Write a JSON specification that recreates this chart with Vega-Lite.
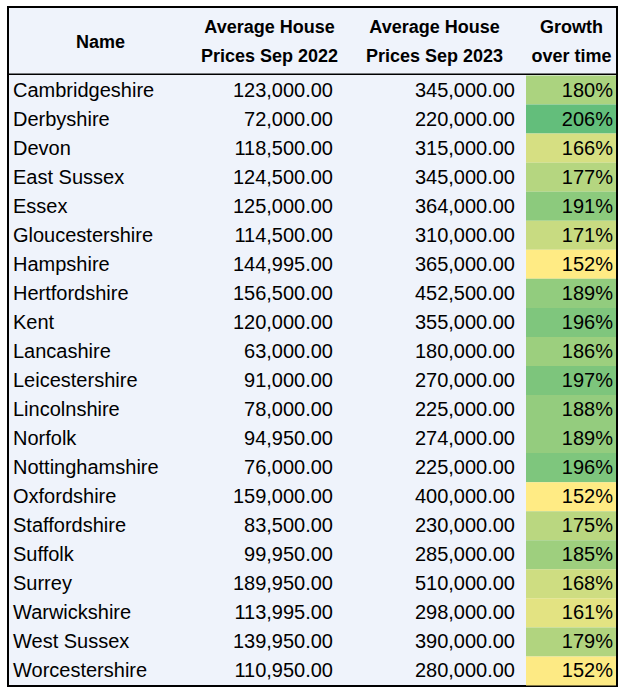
{
  "$schema": "https://vega.github.io/schema/vega-lite/v6.json",
  "width": 609,
  "height": 679,
  "autosize": "none",
  "padding": {"left": 8, "top": 7, "right": 8, "bottom": 2},
  "background": "white",
  "config": {
    "view": {"fill": "#EFF3FB", "stroke": "black", "strokeWidth": 2},
    "text": {"font": "Liberation Sans", "fontSize": 20, "color": "black", "baseline": "middle"}
  },
  "data": {
    "values": [
      {"Name": "Cambridgeshire", "p2022": 123000, "p2023": 345000, "Growth": 1.8049},
      {"Name": "Derbyshire", "p2022": 72000, "p2023": 220000, "Growth": 2.0556},
      {"Name": "Devon", "p2022": 118500, "p2023": 315000, "Growth": 1.6582},
      {"Name": "East Sussex", "p2022": 124500, "p2023": 345000, "Growth": 1.7711},
      {"Name": "Essex", "p2022": 125000, "p2023": 364000, "Growth": 1.912},
      {"Name": "Gloucestershire", "p2022": 114500, "p2023": 310000, "Growth": 1.7074},
      {"Name": "Hampshire", "p2022": 144995, "p2023": 365000, "Growth": 1.5173},
      {"Name": "Hertfordshire", "p2022": 156500, "p2023": 452500, "Growth": 1.8914},
      {"Name": "Kent", "p2022": 120000, "p2023": 355000, "Growth": 1.9583},
      {"Name": "Lancashire", "p2022": 63000, "p2023": 180000, "Growth": 1.8571},
      {"Name": "Leicestershire", "p2022": 91000, "p2023": 270000, "Growth": 1.967},
      {"Name": "Lincolnshire", "p2022": 78000, "p2023": 225000, "Growth": 1.8846},
      {"Name": "Norfolk", "p2022": 94950, "p2023": 274000, "Growth": 1.8857},
      {"Name": "Nottinghamshire", "p2022": 76000, "p2023": 225000, "Growth": 1.9605},
      {"Name": "Oxfordshire", "p2022": 159000, "p2023": 400000, "Growth": 1.5157},
      {"Name": "Staffordshire", "p2022": 83500, "p2023": 230000, "Growth": 1.7545},
      {"Name": "Suffolk", "p2022": 99950, "p2023": 285000, "Growth": 1.8514},
      {"Name": "Surrey", "p2022": 189950, "p2023": 510000, "Growth": 1.6849},
      {"Name": "Warwickshire", "p2022": 113995, "p2023": 298000, "Growth": 1.6142},
      {"Name": "West Sussex", "p2022": 139950, "p2023": 390000, "Growth": 1.7867},
      {"Name": "Worcestershire", "p2022": 110950, "p2023": 280000, "Growth": 1.5236}
    ]
  },
  "encoding": {
    "y": {
      "field": "Name",
      "type": "nominal",
      "sort": null,
      "scale": {"range": [68.5, 678.5], "paddingInner": 0, "paddingOuter": 0},
      "axis": null
    }
  },
  "layer": [
    {
      "mark": {"type": "rect", "width": 90},
      "encoding": {
        "x": {
          "datum": 3,
          "type": "quantitative",
          "scale": {"domain": [0, 1, 2, 3], "range": [92, 261, 426, 563], "nice": false, "zero": false},
          "axis": {
            "orient": "top",
            "offset": -67,
            "values": [0, 1, 2, 3],
            "labelExpr": "datum.value == 0 ? 'Name' : datum.value == 1 ? ['Average House', 'Prices Sep 2022'] : datum.value == 2 ? ['Average House', 'Prices Sep 2023'] : ['Growth', 'over time']",
            "labelFont": "Liberation Sans",
            "labelFontWeight": "bold",
            "labelFontSize": 18,
            "labelColor": "black",
            "labelLineHeight": 29,
            "labelBaseline": "middle",
            "labelAlign": "center",
            "labelPadding": {"condition": {"test": "datum.value == 0", "value": 32}, "value": 47},
            "labelFlush": false,
            "labelOverlap": false,
            "labelBound": false,
            "labelLimit": 0,
            "ticks": false,
            "tickSize": 0,
            "domain": false,
            "grid": false,
            "title": null
          }
        },
        "color": {
          "field": "Growth",
          "type": "quantitative",
          "scale": {"range": ["#FFEB84", "#63BE7B"], "interpolate": "rgb", "zero": false, "nice": false},
          "legend": null
        }
      }
    },
    {
      "transform": [{"filter": "datum.Name == 'Cambridgeshire'"}],
      "mark": {"type": "rule", "color": "black", "strokeWidth": 1.5},
      "encoding": {"y": {"field": "Name", "type": "nominal", "sort": null, "bandPosition": -0.04}}
    },
    {
      "mark": {"type": "text", "align": "left", "dx": -87, "dy": 0.5},
      "encoding": {
        "x": {"datum": 0, "type": "quantitative"},
        "text": {"field": "Name"}
      }
    },
    {
      "mark": {"type": "text", "align": "right", "dx": 64, "dy": 0.5},
      "encoding": {
        "x": {"datum": 1, "type": "quantitative"},
        "text": {"field": "p2022", "type": "quantitative", "format": ",.2f"}
      }
    },
    {
      "mark": {"type": "text", "align": "right", "dx": 81, "dy": 0.5},
      "encoding": {
        "x": {"datum": 2, "type": "quantitative"},
        "text": {"field": "p2023", "type": "quantitative", "format": ",.2f"}
      }
    },
    {
      "mark": {"type": "text", "align": "right", "dx": 42, "dy": 0.5},
      "encoding": {
        "x": {"datum": 3, "type": "quantitative"},
        "text": {"field": "Growth", "type": "quantitative", "format": ".0%"}
      }
    }
  ]
}
